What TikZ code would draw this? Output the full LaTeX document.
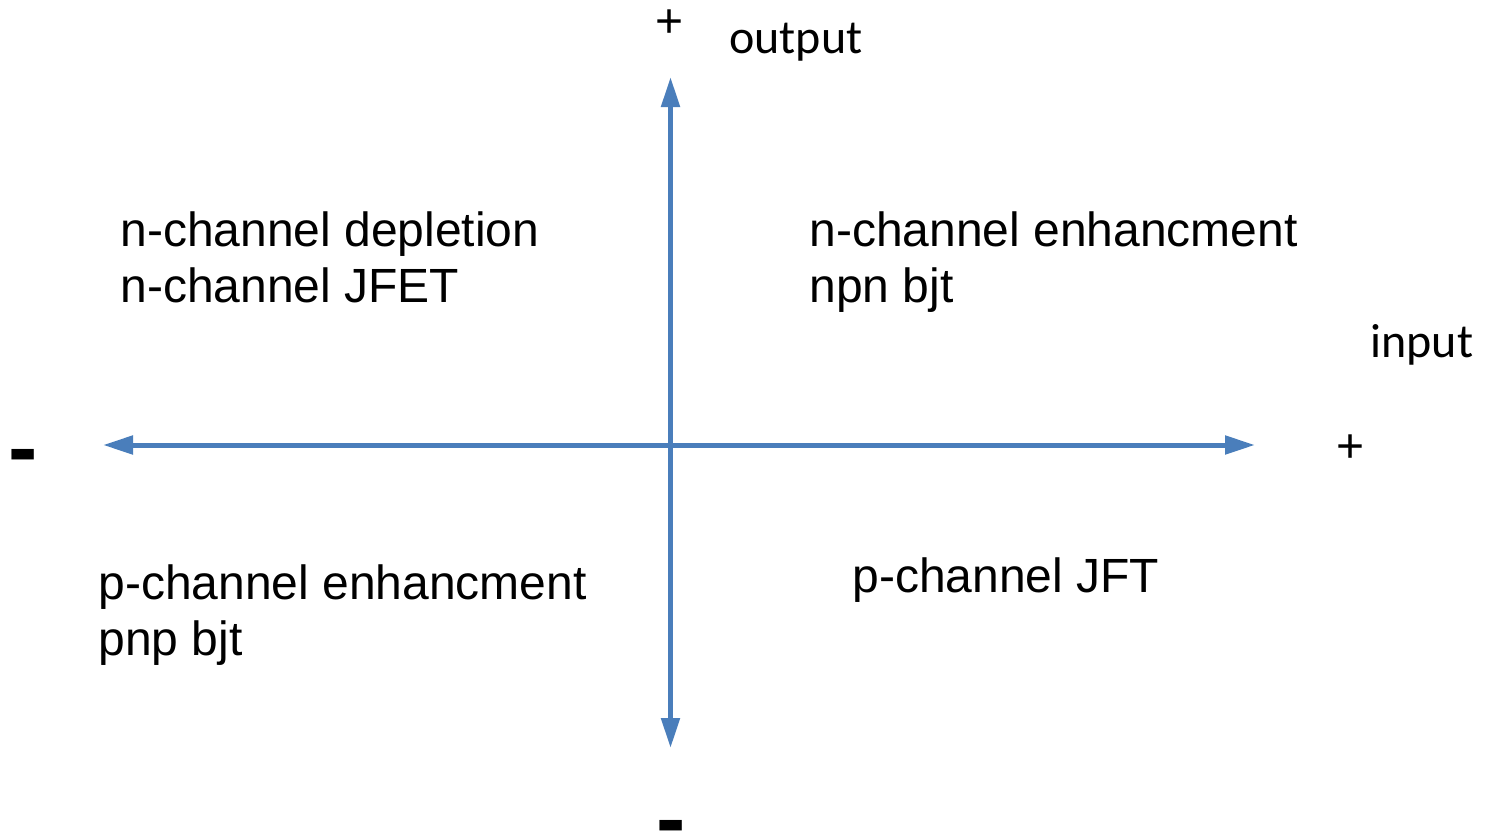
\documentclass[tikz,border=0pt]{standalone}
\usepackage{fontspec}
\setmainfont{Liberation Sans}
\newfontfamily\calibrifont{Carlito}
\usetikzlibrary{arrows.meta}
\definecolor{axisblue}{RGB}{74,126,187}
\tikzset{
  axis/.style={draw=axisblue, line width=2.5pt, {Triangle[length=15pt,width=9pt]}-{Triangle[length=15pt,width=9pt]}},
  quadtext/.style={anchor=base west, inner sep=0pt, font=\fontsize{24}{28}\selectfont},
  axislabel/.style={anchor=base west, inner sep=0pt, font=\calibrifont\fontsize{24}{28}\selectfont},
  plussign/.style={anchor=base, inner sep=0pt, font=\fontsize{24}{28}\selectfont},
  minussign/.style={anchor=base, inner sep=0pt, font=\bfseries\fontsize{44}{50}\selectfont}
}
\begin{document}
\begin{tikzpicture}[x=0.5pt, y=-0.5pt]
  \useasboundingbox (0,0) rectangle (1487,831);
  \coordinate (L) at (103,445);
  \coordinate (R) at (1255,445);
  \coordinate (T) at (670.5,77);
  \coordinate (B) at (670.5,748);
  \draw[axis] (L) -- (R);
  \draw[axis] (B) -- (T);

  \node[plussign] (ptop) at (670,20) {\raisebox{-8.5pt}[0pt][0pt]{+}};
  \node[plussign] (pright) at (1350,445) {\raisebox{-8.5pt}[0pt][0pt]{+}};
  \node[minussign] (mleft) at (23,454) {\raisebox{-11.5pt}[0pt][0pt]{-}};
  \node[minussign] (mbottom) at (671,825) {\raisebox{-11.5pt}[0pt][0pt]{-}};

  \node[axislabel] (out) at (729,53) {output};
  \node[axislabel] (in) at (1370,357) {input};

  \node[quadtext] (q1a) at (120,246) {n-channel depletion};
  \node[quadtext] (q1b) at (120,302) {n-channel JFET};
  \node[quadtext] (q2a) at (809,246) {n-channel enhancment};
  \node[quadtext] (q2b) at (809,302) {npn bjt};
  \node[quadtext] (q3a) at (98,599) {p-channel enhancment};
  \node[quadtext] (q3b) at (98,655) {pnp bjt};
  \node[quadtext] (q4a) at (852,592) {p-channel JFT};
\end{tikzpicture}
\end{document}
